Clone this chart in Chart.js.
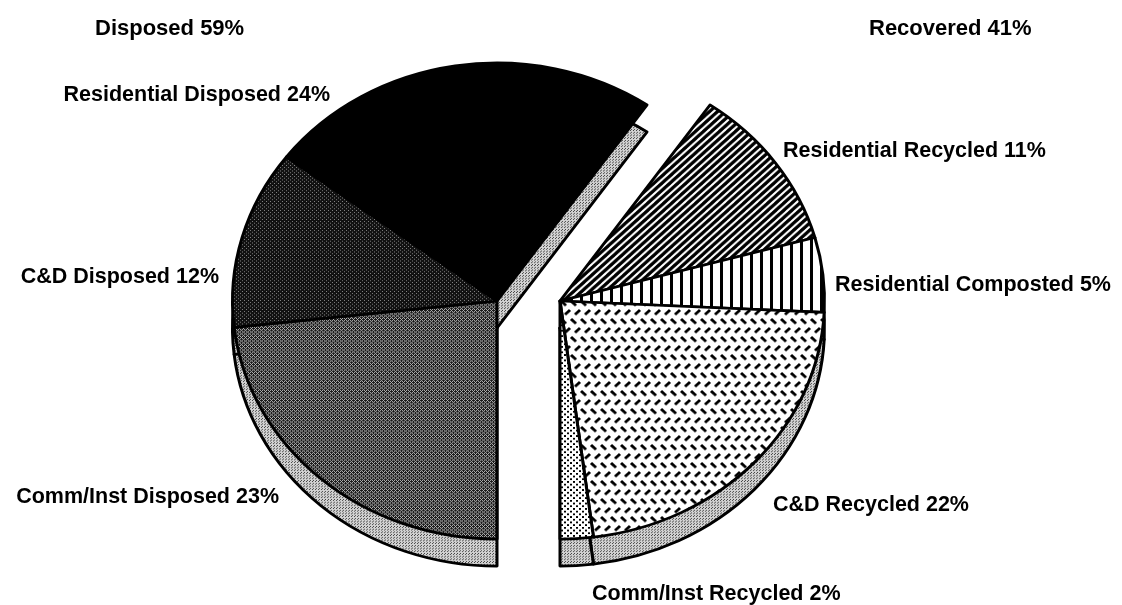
<!DOCTYPE html>
<html>
<head>
<meta charset="utf-8">
<script src="https://cdn.jsdelivr.net/npm/chart.js@4.4.1/dist/chart.umd.min.js"></script>
<style>
  html, body { margin: 0; padding: 0; background: #fff; }
  #wrap { width: 1122px; height: 605px; position: relative; }
</style>
</head>
<body>
<div id="wrap"><canvas id="pie-chart"></canvas></div>
<script>
// Slices in drawing order, clockwise from 6 o'clock
var categories = ["Comm/Inst Disposed", "C&D Disposed", "Residential Disposed",
                  "Residential Recycled", "Residential Composted", "C&D Recycled", "Comm/Inst Recycled"];
var shares = [23, 12, 24, 11, 5, 22, 2];
var groups = ["Disposed", "Disposed", "Disposed", "Recovered", "Recovered", "Recovered", "Recovered"];
var groupTitles = ["Disposed 59%", "Recovered 41%"];

// Label placement (x, baseline y, align)
var labelPos = [
    [279, 503, "right"],
    [219, 283, "right"],
    [330, 101, "right"],
    [783, 157, "left"],
    [835, 291, "left"],
    [773, 511, "left"],
    [592, 600, "left"]
];

var FONT = 'bold 21.5px "Liberation Sans", Arial, sans-serif';
var SHIFT = 31.5;      // explode distance for each half
var SQUASH = 0.9;      // vertical tilt
var DEPTH = 27;        // rim thickness (screen px)

var ctx = document.getElementById("pie-chart").getContext("2d");

function makePattern(size, draw) {
    var c = document.createElement("canvas");
    c.width = c.height = size;
    var g = c.getContext("2d");
    draw(g, size);
    return ctx.createPattern(c, "repeat");
}

// fills
var darkDots = makePattern(4, function (g) {
    g.fillStyle = "#111"; g.fillRect(0, 0, 4, 4);
    g.fillStyle = "#8a8a8a"; g.fillRect(0, 0, 1, 1); g.fillRect(2, 2, 1, 1);
});
var crossHatch = makePattern(4, function (g) {
    g.fillStyle = "#1a1a1a"; g.fillRect(0, 0, 4, 4);
    g.fillStyle = "#b4b4b4";
    g.fillRect(0, 0, 1, 1); g.fillRect(2, 0, 1, 1); g.fillRect(1, 1, 1, 1);
    g.fillRect(0, 2, 1, 1); g.fillRect(3, 3, 1, 1); g.fillRect(2, 2, 1, 1);
});
var diagLines = makePattern(8, function (g) {
    g.fillStyle = "#fff"; g.fillRect(0, 0, 8, 8);
    g.strokeStyle = "#000"; g.lineWidth = 3.4;
    g.beginPath();
    g.moveTo(-4, 12); g.lineTo(12, -4);
    g.moveTo(-4, 4); g.lineTo(4, -4);
    g.moveTo(4, 12); g.lineTo(12, 4);
    g.stroke();
});
var vertLines = makePattern(10, function (g) {
    g.fillStyle = "#fff"; g.fillRect(0, 0, 10, 10);
    g.fillStyle = "#000"; g.fillRect(0, 0, 3, 10);
});
var dashes = makePattern(20, function (g) {
    g.fillStyle = "#fff"; g.fillRect(0, 0, 20, 20);
    g.strokeStyle = "#000"; g.lineWidth = 3; g.lineCap = "butt";
    g.beginPath();
    g.moveTo(1, 1); g.lineTo(6, 6);
    g.moveTo(11, 1); g.lineTo(16, 6);
    g.moveTo(5, 16); g.lineTo(10, 11);
    g.moveTo(15, 16); g.lineTo(20, 11);
    g.moveTo(-5, 16); g.lineTo(0, 11);
    g.stroke();
});
var lightDots = makePattern(6, function (g) {
    g.fillStyle = "#fff"; g.fillRect(0, 0, 6, 6);
    g.fillStyle = "#000"; g.fillRect(0, 0, 2, 2); g.fillRect(3, 3, 2, 2);
});
var rimFill = makePattern(3, function (g) {
    g.fillStyle = "#d2d2d2"; g.fillRect(0, 0, 3, 3);
    g.fillStyle = "#444"; g.fillRect(0, 0, 1, 1); g.fillRect(1, 2, 1, 1);
});

var fills = [crossHatch, darkDots, "#000", diagLines, vertLines, dashes, lightDots];

// split the pie into two halves, tilt it and give it a rim
var splitPie = {
    id: "splitPie",
    afterDatasetUpdate: function (chart) {
        chart.getDatasetMeta(0).data.forEach(function (arc, i) {
            arc.x += groups[i] === "Disposed" ? -SHIFT : SHIFT;
        });
    },
    beforeDatasetsDraw: function (chart) {
        var c = chart.ctx;
        var area = chart.chartArea;
        var cy = (area.top + area.bottom) / 2;
        c.save();
        c.translate(0, cy);
        c.scale(1, SQUASH);
        c.translate(0, -cy);
        // rim: same slices pushed down
        c.save();
        c.translate(0, DEPTH / SQUASH);
        chart.getDatasetMeta(0).data.forEach(function (arc) {
            c.beginPath();
            c.moveTo(arc.x, arc.y);
            c.arc(arc.x, arc.y, arc.outerRadius, arc.startAngle, arc.endAngle);
            c.closePath();
            c.fillStyle = rimFill;
            c.fill();
            c.lineWidth = 3;
            c.strokeStyle = "#000";
            c.lineJoin = "round";
            c.stroke();
        });
        c.restore();
    },
    afterDatasetsDraw: function (chart) {
        chart.ctx.restore();
    },
    afterDraw: function (chart) {
        var c = chart.ctx;
        c.save();
        c.fillStyle = "#000";
        c.font = FONT;
        c.textBaseline = "alphabetic";
        categories.forEach(function (name, i) {
            var p = labelPos[i];
            c.textAlign = p[2];
            c.fillText(name + " " + shares[i] + "%", p[0], p[1]);
        });
        c.font = 'bold 22px "Liberation Sans", Arial, sans-serif';
        c.textAlign = "left";
        c.fillText(groupTitles[0], 95, 35);
        c.fillText(groupTitles[1], 869, 35);
        c.restore();
    }
};

var myChart = new Chart(ctx, {
    type: "pie",
    data: {
        labels: categories,
        datasets: [{
            data: shares,
            backgroundColor: fills,
            borderColor: "#000",
            borderWidth: 3,
            borderJoinStyle: "round"
        }]
    },
    options: {
        responsive: true,
        maintainAspectRatio: false,
        animation: false,
        rotation: 180,
        layout: {
            padding: {left: 200, right: 265, top: 35, bottom: 38}
        },
        plugins: {
            legend: {display: false},
            tooltip: {enabled: false}
        }
    },
    plugins: [splitPie]
});
</script>
</body>
</html>
